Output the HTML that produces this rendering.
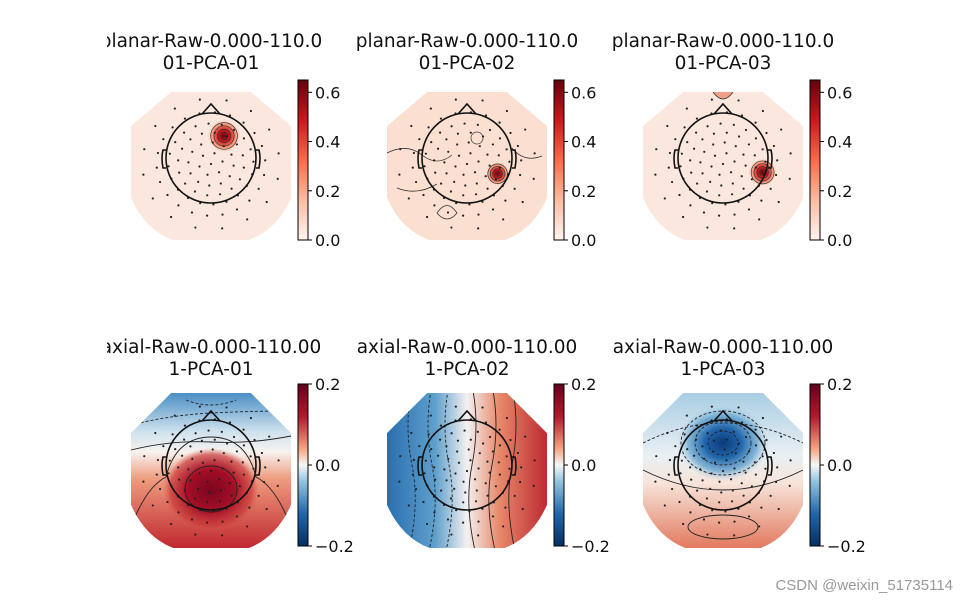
<!DOCTYPE html>
<html><head><meta charset="utf-8">
<style>
html,body{margin:0;padding:0;background:#fff;}
svg{display:block;font-family:"DejaVu Sans","Liberation Sans",sans-serif;}
</style></head>
<body>
<svg id="fig" width="968" height="604" viewBox="0 0 968 604">
<defs>
 <clipPath id="figClip"><rect x="107" y="0" width="861" height="604"/></clipPath>
 <linearGradient id="redsCb" x1="0" y1="1" x2="0" y2="0">
  <stop offset="0" stop-color="#fff5f0"/><stop offset="0.25" stop-color="#fcbba1"/>
  <stop offset="0.5" stop-color="#fb6a4a"/><stop offset="0.75" stop-color="#cb181d"/>
  <stop offset="1" stop-color="#67000d"/>
 </linearGradient>
 <linearGradient id="rdbuCb" x1="0" y1="1" x2="0" y2="0">
  <stop offset="0" stop-color="#053061"/><stop offset="0.2" stop-color="#2166ac"/>
  <stop offset="0.4" stop-color="#92c5de"/><stop offset="0.5" stop-color="#f7f7f7"/>
  <stop offset="0.6" stop-color="#f4a582"/><stop offset="0.8" stop-color="#b2182b"/>
  <stop offset="1" stop-color="#67001f"/>
 </linearGradient>
 <radialGradient id="redBlob"><stop offset="0" stop-color="#67000d"/><stop offset="0.35" stop-color="#cb181d"/><stop offset="0.7" stop-color="#fc9272"/><stop offset="1" stop-color="#fbe3d6" stop-opacity="0"/></radialGradient>
 <radialGradient id="warmBlob"><stop offset="0" stop-color="#7a0520"/><stop offset="0.5" stop-color="#a50f26"/><stop offset="0.85" stop-color="#c93a3a" stop-opacity="0.7"/><stop offset="1" stop-color="#d6604d" stop-opacity="0"/></radialGradient>
 <radialGradient id="coolBlob"><stop offset="0" stop-color="#0a3a78"/><stop offset="0.4" stop-color="#2166ac"/><stop offset="0.75" stop-color="#6aa6cf" stop-opacity="0.8"/><stop offset="1" stop-color="#b5d4e8" stop-opacity="0"/></radialGradient>
 <linearGradient id="b1grad" x1="0" y1="0" x2="0" y2="1"><stop offset="0" stop-color="#4a8fc4"/><stop offset="0.25" stop-color="#cfe2ee"/><stop offset="0.38" stop-color="#f7f2ef"/><stop offset="0.55" stop-color="#ef9d80"/><stop offset="1" stop-color="#c0272f"/></linearGradient>
 <linearGradient id="b2grad" x1="0" y1="0" x2="1" y2="0"><stop offset="0" stop-color="#2a6fb0"/><stop offset="0.3" stop-color="#5e9fcc"/><stop offset="0.5" stop-color="#f3f1f0"/><stop offset="0.7" stop-color="#e8896b"/><stop offset="1" stop-color="#bd2a33"/></linearGradient>
 <linearGradient id="b3grad" x1="0" y1="0" x2="0" y2="1"><stop offset="0" stop-color="#a9cde3"/><stop offset="0.4" stop-color="#e9f0f4"/><stop offset="0.58" stop-color="#f7e4da"/><stop offset="1" stop-color="#e27a5f"/></linearGradient>
</defs>
<g id="root" clip-path="url(#figClip)"></g>
</svg>
<script>
// ---- data ----
const titlesTop = ["planar-Raw-0.000-110.0","planar-Raw-0.000-110.0","planar-Raw-0.000-110.0"];
const titlesBottom = ["axial-Raw-0.000-110.00","axial-Raw-0.000-110.00","axial-Raw-0.000-110.00"];
const subTop = ["01-PCA-01","01-PCA-02","01-PCA-03"];
const subBottom = ["1-PCA-01","1-PCA-02","1-PCA-03"];
const ticksTop = [0.0, 0.2, 0.4, 0.6];
const ticksTopLabels = ["0.0","0.2","0.4","0.6"];
const ticksBottom = [-0.2, 0.0, 0.2];
const ticksBottomLabels = ["\u22120.2","0.0","0.2"];
// peak blob locations (head-relative units, radius 1 = head) and amplitude
const peakX = [0.29, 0.68, 0.88];
const peakY = [-0.49, 0.35, 0.32];
const peakAmp = [0.62, 0.3, 0.45];

const NS='http://www.w3.org/2000/svg';
const svg=document.getElementById('root');
function mk(tag,attrs,parent){const e=document.createElementNS(NS,tag);for(const k in attrs)e.setAttribute(k,attrs[k]);(parent||svg).appendChild(e);return e;}

const colX=[211,467,723];
const rowY=[158,465];
const R=45;
const topCb={y0:240,y1:80,vmin:0,vmax:0.65};
const botCb={y0:546,y1:384,vmin:-0.2,vmax:0.2};
function cbY(cb,v){return cb.y0+(v-cb.vmin)/(cb.vmax-cb.vmin)*(cb.y1-cb.y0);}

function outline(cx,cy,top){
  const t=top?-66:-72;
  const b=top?82:83;
  return `M${cx-40},${cy+t} L${cx+40},${cy+t} L${cx+80},${cy-32} L${cx+80},${cy+40} Q${cx+66},${cy+72} ${cx+38},${cy+b} L${cx-38},${cy+b} Q${cx-66},${cy+72} ${cx-80},${cy+40} L${cx-80},${cy-32} Z`;
}

function dots(g,cx,cy){
  const rings=[[0,1],[0.25,6],[0.48,12],[0.7,16],[0.9,20],[1.15,22],[1.45,16]];
  rings.forEach(([r,n],ri)=>{for(let i=0;i<n;i++){const a=i/n*Math.PI*2+ri*0.3;const x=cx+Math.sin(a)*r*R*1.05,y=cy-Math.cos(a)*r*R*1.0+6;
    if(Math.abs(x-cx)>77||y<cy-68||y>cy+80)continue;
    const d=mk('circle',{cx:x,cy:y,r:1.1,fill:'#222'},g);
    
    }});
}

function head(g,cx,cy){
  const h=mk('g',{fill:'none',stroke:'#111','stroke-width':1.6},g);
  
  
  mk('circle',{cx:cx,cy:cy,r:R},h);
  mk('path',{d:`M${cx-9},${cy-44} L${cx},${cy-54} L${cx+9},${cy-44}`},h);
  mk('path',{d:`M${cx-45},${cy-8} L${cx-48},${cy-8} Q${cx-50},${cy} ${cx-48},${cy+10} L${cx-45},${cy+10}`},h);
  mk('path',{d:`M${cx+45},${cy-8} L${cx+48},${cy-8} Q${cx+50},${cy} ${cx+48},${cy+10} L${cx+45},${cy+10}`},h);
}

function colorbar(x,cb,ticks,labels,grad,name){
  const g=mk('g',{},svg);
  
  
  mk('rect',{x:x,y:cb.y1,width:10,height:cb.y0-cb.y1,fill:`url(#${grad})`,stroke:'#000','stroke-width':1},g);
  ticks.forEach((v,i)=>{const y=cbY(cb,v);
    mk('line',{x1:x+10,x2:x+14,y1:y,y2:y,stroke:'#000'},g);
    const t=mk('text',{x:x+17,y:y+6,'font-size':16,fill:'#111'},g);t.textContent=labels[i];
    
    });
}

function title(cx,y,a,b){
  const t1=mk('text',{x:cx,y:y,'text-anchor':'middle','font-size':18.5,fill:'#111'});t1.textContent=a;
  
  
  const t2=mk('text',{x:cx,y:y+22,'text-anchor':'middle','font-size':18.5,fill:'#111'});t2.textContent=b;
  
  
}

// top row
for(let i=0;i<3;i++){
  const cx=colX[i],cy=rowY[0];
  const g=mk('g',{},svg);
  
  
  const cid='clipT'+i;
  const cp=mk('clipPath',{id:cid},g);mk('path',{d:outline(cx,cy,true)},cp);
  const m=mk('g',{'clip-path':`url(#${cid})`},g);
  mk('path',{d:outline(cx,cy,true),fill:i==1?'#fbe0d2':'#fbe7dd'},m);
  const px=cx+peakX[i]*R,py=cy+peakY[i]*R,rr=8+peakAmp[i]*14;
  mk('circle',{cx:px,cy:py,r:rr,fill:'url(#redBlob)'},m);
  for(let k=1;k<=4;k++) mk('circle',{cx:px,cy:py,r:rr*k/5,fill:'none',stroke:'#333','stroke-width':0.7},m);
  if(i==1){
    mk('path',{d:`M${cx-80},${cy-5} q20,-10 35,2 t30,0 M${cx-70},${cy+30} q20,8 40,-4 M${cx+45},${cy-10} q12,15 30,8 M${cx-30},${cy+55} q10,-15 20,0 q-10,12 -20,0`,fill:'none',stroke:'#333','stroke-width':0.8},m);
    mk('circle',{cx:cx+10,cy:cy-20,r:6,fill:'none',stroke:'#444','stroke-width':0.8},m);
  }
  if(i==2){mk('path',{d:`M${cx-10},${cy-66} q10,14 20,0`,fill:'#f0a088',stroke:'#333','stroke-width':0.8},m);}
  dots(g,cx,cy);
  head(g,cx,cy);
  title(cx,47,titlesTop[i],subTop[i]);
  colorbar(cx+87,topCb,ticksTop,ticksTopLabels,'redsCb','colorbar-planar-'+(i+1));
}
// bottom row
const grads=['b1grad','b2grad','b3grad'];
for(let i=0;i<3;i++){
  const cx=colX[i],cy=rowY[1];
  const g=mk('g',{},svg);
  
  
  const cid='clipB'+i;
  const cp=mk('clipPath',{id:cid},g);mk('path',{d:outline(cx,cy,false)},cp);
  const m=mk('g',{'clip-path':`url(#${cid})`},g);
  mk('path',{d:outline(cx,cy,false),fill:`url(#${grads[i]})`},m);
  const cl={fill:'none',stroke:'#222','stroke-width':0.9};
  const dl={fill:'none',stroke:'#222','stroke-width':0.9,'stroke-dasharray':'3,2'};
  if(i==0){
    mk('ellipse',{cx:cx,cy:cy+25,rx:48,ry:42,fill:'url(#warmBlob)'},m);
    mk('ellipse',{cx:cx,cy:cy+24,rx:26,ry:23,...cl},m);
    mk('path',{d:`M${cx-80},${cy+62} q15,-40 35,-50 q10,-40 45,-40 q35,0 45,40 q20,10 35,50`,...cl},m);
    mk('path',{d:`M${cx-80},${cy-15} q40,-10 80,-8 t80,-6`,...cl},m);
    mk('path',{d:`M${cx-80},${cy-40} q40,-10 80,-12 t80,-2`,...dl},m);
    mk('path',{d:`M${cx-25},${cy-65} q25,10 50,0`,...dl},m);
  } else if(i==1){
    [-55,-35,-18].forEach(o=>mk('path',{d:`M${cx+o},${cy-80} q-8,40 0,80 t-4,90`,...dl},m));
    [5,25,45].forEach(o=>mk('path',{d:`M${cx+o},${cy-80} q8,40 0,80 t4,90`,...cl},m));
  } else {
    mk('ellipse',{cx:cx,cy:cy-22,rx:46,ry:38,fill:'url(#coolBlob)'},m);
    [[15,12],[28,22],[42,32]].forEach(([rx,ry])=>mk('ellipse',{cx:cx,cy:cy-22,rx:rx,ry:ry,...dl},m));
    mk('path',{d:`M${cx-80},${cy+5} q80,40 160,0`,...cl},m);
    mk('path',{d:`M${cx-80},${cy-22} q80,-40 160,0`,...dl},m);
    mk('ellipse',{cx:cx,cy:cy+62,rx:35,ry:12,...cl},m);
  }
  dots(g,cx,cy);
  head(g,cx,cy);
  title(cx,353,titlesBottom[i],subBottom[i]);
  colorbar(cx+87,botCb,ticksBottom,ticksBottomLabels,'rdbuCb','colorbar-axial-'+(i+1));
}
const wm=mk('text',{x:953,y:590,'text-anchor':'end','font-size':15,fill:'#999','font-family':'Liberation Sans, sans-serif'});
wm.textContent='CSDN @weixin_51735114';


</script>
</body></html>
